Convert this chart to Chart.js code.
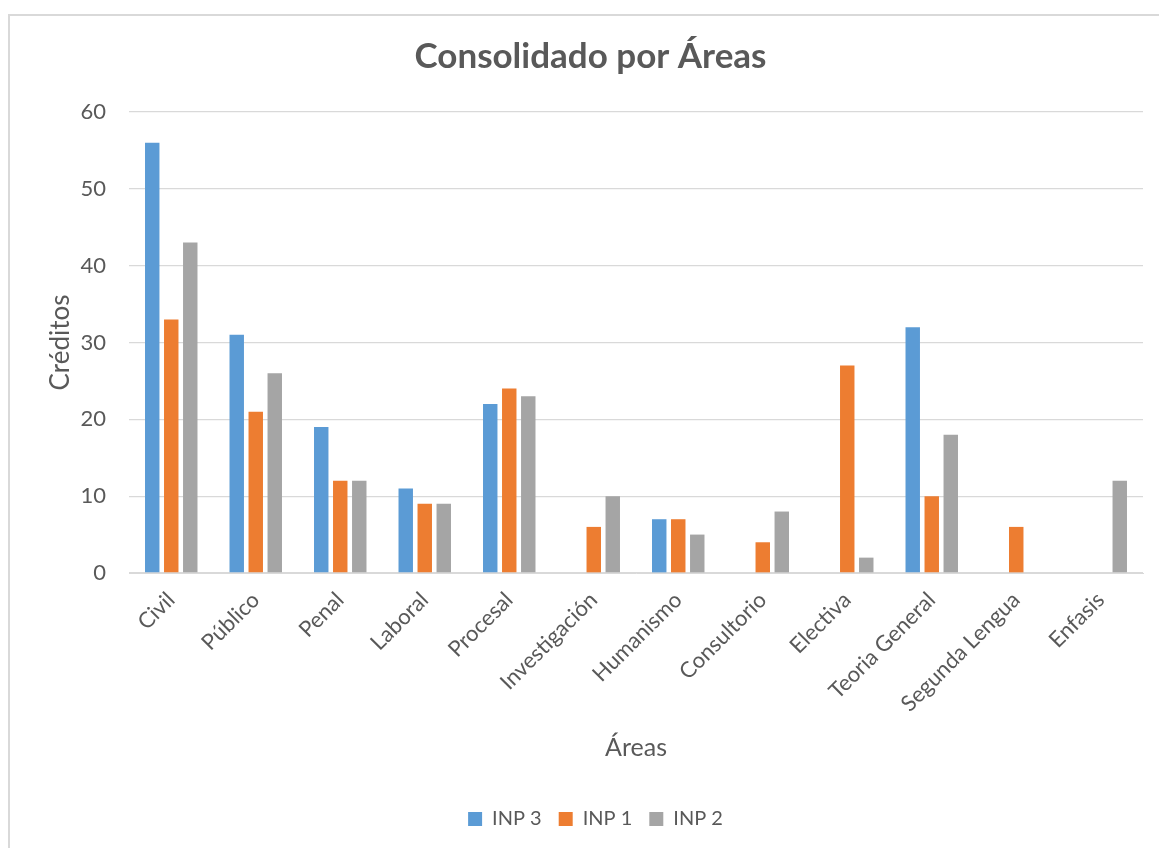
<!DOCTYPE html>
<html lang="es">
<head>
    <meta charset="UTF-8">
    <title>Consolidado por Áreas</title>
    <script src="https://cdn.jsdelivr.net/npm/chart.js"></script>
    <style>
        body { margin: 0; background: #fff; overflow: hidden; }
        #marco { position: absolute; left: 8px; top: 14px; width: 1200px; height: 900px;
                 border-left: 2px solid #d9d9d9; border-top: 2px solid #d9d9d9; }
        #caja { position: absolute; left: 0; top: 0; width: 1159px; height: 848px; }
    </style>
</head>
<body>
    <div id="marco"></div>
    <div id="caja"><canvas id="grafico"></canvas></div>

    <script>
        const areas = ["Civil", "Público", "Penal", "Laboral", "Procesal", "Investigación",
                       "Humanismo", "Consultorio", "Electiva", "Teoria General", "Segunda Lengua", "Enfasis"];
        const inp3 = [56, 31, 19, 11, 22, null, 7, null, null, 32, null, null];
        const inp1 = [33, 21, 12, 9, 24, 6, 7, 4, 27, 10, 6, null];
        const inp2 = [43, 26, 12, 9, 23, 10, 5, 8, 2, 18, null, 12];
        const ticksY = [0, 10, 20, 30, 40, 50, 60];

        const gris = "#595959";
        const fuente = "Lato, 'Open Sans', sans-serif";

        // el título y la leyenda van centrados un poco más a la derecha que el área del gráfico
        const desplazar = {
            id: "desplazar",
            afterLayout(chart) {
                if (chart.titleBlock) { chart.titleBlock.left += 14; chart.titleBlock.right += 14; }
                if (chart.legend) { chart.legend.left += 19; chart.legend.right += 19; }
            }
        };

        const ctx = document.getElementById("grafico").getContext("2d");
        new Chart(ctx, {
            type: "bar",
            data: {
                labels: areas,
                datasets: [
                    { label: "INP 3", data: inp3, backgroundColor: "#5B9BD5" },
                    { label: "INP 1", data: inp1, backgroundColor: "#ED7D31" },
                    { label: "INP 2", data: inp2, backgroundColor: "#A5A5A5" }
                ]
            },
            plugins: [desplazar],
            options: {
                responsive: true,
                maintainAspectRatio: false,
                animation: false,
                categoryPercentage: 0.675,
                barPercentage: 0.76,
                layout: { padding: { left: 10, right: 16, top: 0, bottom: 9 } },
                plugins: {
                    title: {
                        display: true,
                        text: "Consolidado por Áreas",
                        color: gris,
                        font: { family: fuente, size: 35, weight: "bold" },
                        padding: { top: 36, bottom: 34 }
                    },
                    legend: {
                        position: "bottom",
                        labels: { color: gris, font: { family: fuente, size: 20 }, boxWidth: 14, boxHeight: 14, padding: 17 }
                    },
                    tooltip: { enabled: false }
                },
                scales: {
                    x: {
                        grid: { display: false },
                        border: { color: "#d9d9d9" },
                        ticks: { color: gris, font: { family: fuente, size: 22 }, minRotation: 45, maxRotation: 45, padding: 6 },
                        title: { display: true, text: "Áreas", color: gris, font: { family: fuente, size: 25 }, padding: { bottom: 29 } },
                        afterFit: s => { s.height = 219; }
                    },
                    y: {
                        min: 0,
                        max: 60,
                        afterBuildTicks: s => { s.ticks = ticksY.map(v => ({ value: v })); },
                        grid: { color: "#d9d9d9", lineWidth: 1.3, drawTicks: false },
                        border: { display: false },
                        ticks: { color: gris, font: { family: fuente, size: 22 }, padding: 23 },
                        title: { display: true, text: "Créditos", color: gris, font: { family: fuente, size: 26 }, padding: { top: 35 } },
                        afterFit: s => { s.width = 119; }
                    }
                }
            }
        });
    </script>
</body>
</html>
